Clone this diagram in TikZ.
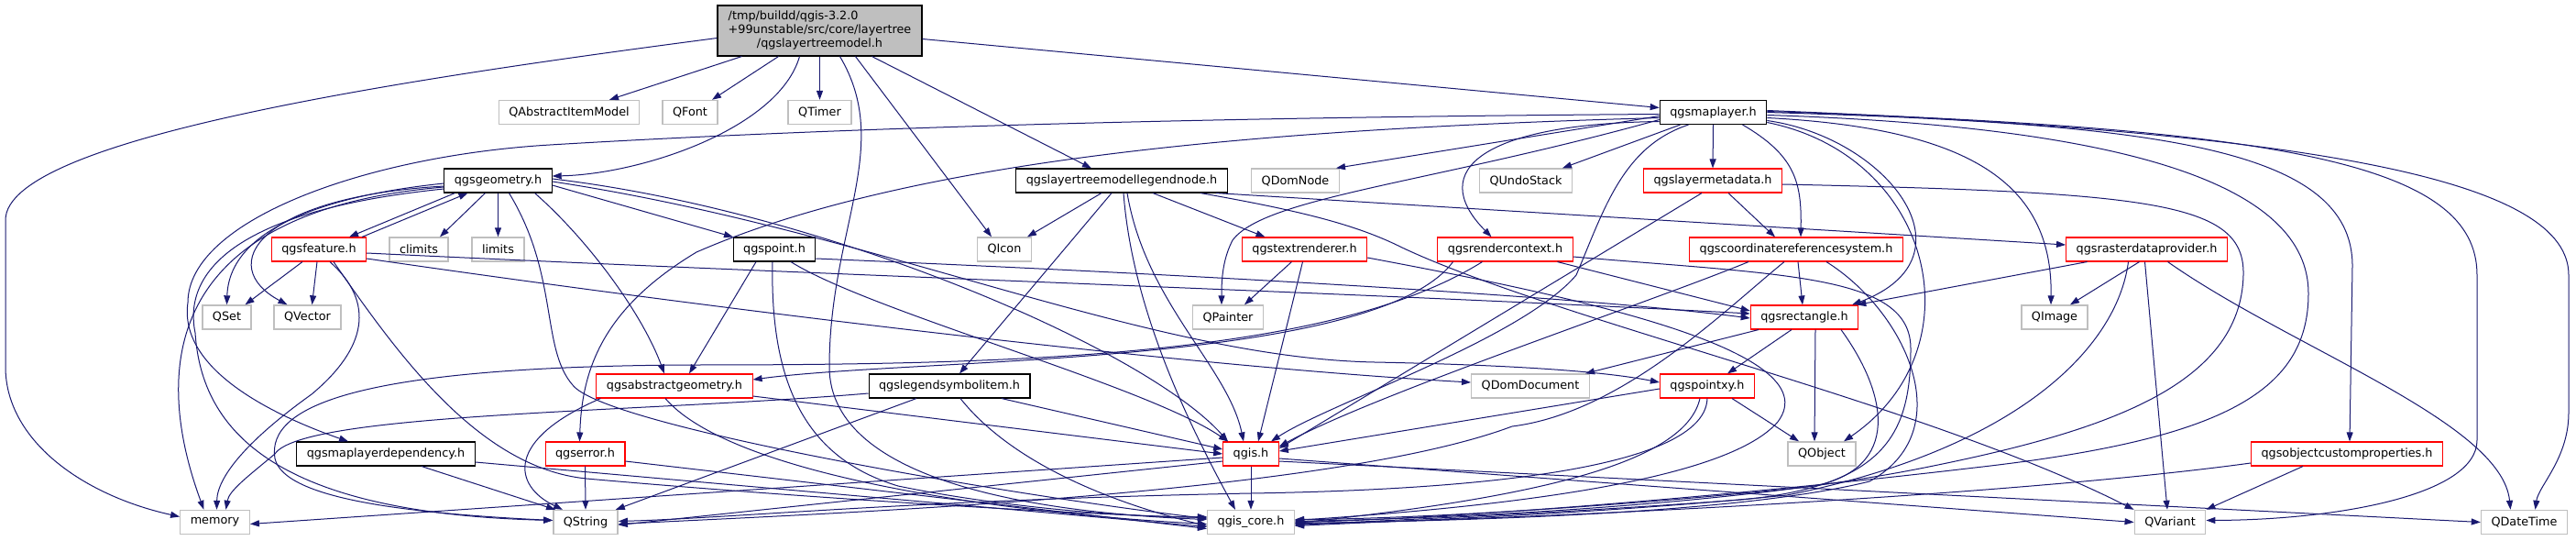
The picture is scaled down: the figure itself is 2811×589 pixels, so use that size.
\documentclass[tikz,border=0pt]{standalone}
\usepackage{fontspec}
\setmainfont{DejaVu Sans}
\usetikzlibrary{arrows.meta}
\definecolor{edgeblue}{HTML}{191970}
\definecolor{boxgray}{HTML}{BFBFBF}
\newcommand{\fsz}{\fontsize{12.8}{15}\selectfont}
\tikzset{
  blk/.style={draw=black,fill=white,line width=1.1pt,font=\fsz,inner xsep=11pt,
              inner ysep=0pt,minimum height=26pt},
  rdb/.style={blk,draw=red},
  gry/.style={blk,draw=boxgray,line width=1.4pt},
  rootbox/.style={blk,fill=boxgray,minimum width=223pt,minimum height=55pt},
  ar/.style={-{Triangle[length=10pt,width=7pt]},draw=edgeblue,line width=1pt},
}

\begin{document}
\begin{tikzpicture}[x=1pt,y=1pt]
  \path[use as bounding box,fill=white] (0,0) rectangle (2811,-589);
  \node[rootbox] (root) at (894.5,-33.5) {\begin{tabular}{@{}l@{}}/tmp/buildd/qgis-3.2.0\\+99unstable/src/core/layertree\\\multicolumn{1}{@{}c@{}}{/qgslayertreemodel.h}\end{tabular}};
  \node[gry] (qaim) at (621,-122.5) {QAbstractItemModel};
  \node[gry] (qfont) at (753,-122.5) {QFont};
  \node[gry] (qtimer) at (894.5,-122.5) {QTimer};
  \node[blk] (maplayer) at (1869.5,-122.5) {qgsmaplayer.h};
  \node[blk] (geom) at (543.5,-197) {qgsgeometry.h};
  \node[blk] (legnode) at (1224,-197) {qgslayertreemodellegendnode.h};
  \node[gry] (qdomnode) at (1413.5,-197) {QDomNode};
  \node[gry] (qundo) at (1665,-197) {QUndoStack};
  \node[rdb] (layermeta) at (1869,-197) {qgslayermetadata.h};
  \node[rdb] (feature) at (348,-272) {qgsfeature.h};
  \node[gry] (climits) at (457,-272) {climits};
  \node[gry] (limits) at (543.5,-272) {limits};
  \node[blk] (point) at (845,-272) {qgspoint.h};
  \node[gry] (qicon) at (1096,-272) {QIcon};
  \node[rdb] (textrend) at (1423.5,-272) {qgstextrenderer.h};
  \node[rdb] (rendctx) at (1642.5,-272) {qgsrendercontext.h};
  \node[rdb] (crs) at (1960,-272) {qgscoordinatereferencesystem.h};
  \node[rdb] (rasterdp) at (2342.5,-272) {qgsrasterdataprovider.h};
  \node[gry] (qset) at (247.5,-346) {QSet};
  \node[gry] (qvector) at (335.5,-346) {QVector};
  \node[gry] (qpainter) at (1340,-346) {QPainter};
  \node[rdb] (rect) at (1969,-346) {qgsrectangle.h};
  \node[gry] (qimage) at (2242,-346) {QImage};
  \node[rdb] (absgeom) at (736,-421) {qgsabstractgeometry.h};
  \node[blk] (legsym) at (1036,-421) {qgslegendsymbolitem.h};
  \node[gry] (qdomdoc) at (1670,-421) {QDomDocument};
  \node[rdb] (pointxy) at (1863,-421) {qgspointxy.h};
  \node[blk] (mldep) at (421,-495) {qgsmaplayerdependency.h};
  \node[rdb] (error) at (638.5,-495) {qgserror.h};
  \node[rdb] (qgis) at (1365,-495) {qgis.h};
  \node[gry] (qobject) at (1988,-495) {QObject};
  \node[rdb] (custprops) at (2561,-495) {qgsobjectcustomproperties.h};
  \node[gry] (memory) at (234.5,-569.5) {memory};
  \node[gry] (qstring) at (639,-569.5) {QString};
  \node[gry] (core) at (1365,-569.5) {qgis\_core.h};
  \node[gry] (qvariant) at (2368,-569.5) {QVariant};
  \node[gry] (qdatetime) at (2754.5,-569.5) {QDateTime};

  \draw[ar] ([yshift=-8pt]root.west) .. controls (450,-85) and (6,-150) .. (6,-240) -- (6,-400) .. controls (6,-480) and (90,-540) .. ([yshift=6pt]memory.west);
  \draw[ar] ([xshift=-85pt]root.south) -- ([xshift=44pt]qaim.north);
  \draw[ar] ([xshift=-45pt]root.south) -- ([xshift=24pt]qfont.north);
  \draw[ar] (root.south) -- (qtimer.north);
  \draw[ar] ([xshift=-22pt]root.south) .. controls (850,-140) and (700,-190) .. ([yshift=5pt]geom.east);
  \draw[ar] ([xshift=22pt]root.south) .. controls (975,-160) and (905,-250) .. (905,-400) .. controls (905,-530) and (1150,-560) .. ([yshift=3pt]core.west);
  \draw[ar] ([xshift=39pt]root.south) -- ([xshift=-14pt]qicon.north);
  \draw[ar] ([xshift=57pt]root.south) -- ([xshift=-33pt]legnode.north);
  \draw[ar] ([yshift=-9pt]root.east) -- ([yshift=5pt]maplayer.west);

  \draw[ar] ([yshift=-2pt]maplayer.west) .. controls (1300,-128) and (900,-140) .. (600,-158) .. controls (400,-170) and (205,-240) .. (205,-330) .. controls (195,-400) and (290,-450) .. ([xshift=-41pt]mldep.north);
  \draw[ar] ([yshift=-6pt]maplayer.west) .. controls (1400,-140) and (1000,-170) .. (760,-275) .. controls (660,-335) and (635,-400) .. ([xshift=-6pt]error.north);
  \draw[ar] ([yshift=-4pt]maplayer.west) -- ([xshift=-4pt]qdomnode.north east);
  \draw[ar] ([xshift=-36pt]maplayer.south) -- ([xshift=40pt]qundo.north);
  \draw[ar] (maplayer.south) -- (layermeta.north);
  \draw[ar] ([yshift=-10pt]maplayer.west) .. controls (1620,-135) and (1555,-185) .. ([xshift=-15pt]rendctx.north);
  \draw[ar] ([xshift=32pt]maplayer.south) .. controls (1960,-170) and (1966,-200) .. ([xshift=5pt]crs.north);
  \draw[ar] ([yshift=-8pt]maplayer.west) .. controls (1560,-200) and (1380,-215) .. (1345,-262) .. controls (1333,-285) and (1333,-310) .. ([xshift=-7pt]qpainter.north);
  \draw[ar] ([xshift=-27pt]maplayer.south) .. controls (1770,-160) and (1750,-230) .. (1720,-300) .. controls (1660,-370) and (1450,-440) .. ([xshift=22pt]qgis.north);
  \draw[ar] ([yshift=-6pt]maplayer.east) .. controls (2150,-140) and (2240,-200) .. ([xshift=-4pt]qimage.north);
  \draw[ar] ([yshift=-9pt]maplayer.east) .. controls (2060,-150) and (2160,-280) .. ([xshift=52pt]rect.north);
  \draw[ar] ([yshift=-11pt]maplayer.east) .. controls (2110,-170) and (2160,-380) .. ([xshift=24pt]qobject.north);
  \draw[ar] (maplayer.east) .. controls (2350,-135) and (2567,-160) .. (2567,-290) -- ([xshift=3pt]custprops.north);
  \draw[ar] ([yshift=1pt]maplayer.east) .. controls (2500,-140) and (2703,-180) .. (2703,-300) -- (2703,-480) .. controls (2703,-540) and (2550,-567) .. ([yshift=2pt]qvariant.east);
  \draw[ar] ([yshift=2pt]maplayer.east) .. controls (2550,-145) and (2803,-200) .. (2803,-300) -- (2803,-450) .. controls (2803,-500) and (2770,-530) .. ([xshift=12pt]qdatetime.north);
  \draw[ar] ([yshift=-3pt]maplayer.east) .. controls (2380,-140) and (2519,-220) .. (2519,-320) .. controls (2519,-430) and (2420,-480) .. (2155,-510) .. controls (1900,-540) and (1600,-565) .. (core.east);

  \draw[ar] ([xshift=-47pt]geom.south) -- ([xshift=33pt]feature.north);
  \draw[ar] ([xshift=47pt]feature.north) -- ([xshift=-33pt]geom.south);
  \draw[ar] ([xshift=-14pt]geom.south) -- ([xshift=23pt]climits.north);
  \draw[ar] (geom.south) -- (limits.north);
  \draw[ar] ([yshift=-3pt]geom.west) .. controls (340,-215) and (250,-255) .. (qset.north);
  \draw[ar] ([yshift=-6pt]geom.west) .. controls (280,-215) and (235,-290) .. ([xshift=-22pt]qvector.north);
  \draw[ar] ([yshift=-7pt]geom.west) .. controls (180,-230) and (165,-400) .. ([xshift=-12pt]memory.north);
  \draw[ar] ([yshift=-9pt]geom.west) .. controls (250,-230) and (200,-300) .. (213,-363) .. controls (220,-470) and (300,-560) .. ([yshift=2pt]qstring.west);
  \draw[ar] ([xshift=40pt]geom.south) .. controls (640,-260) and (700,-340) .. ([xshift=-11pt]absgeom.north);
  \draw[ar] ([yshift=-5pt]geom.east) -- ([xshift=-45pt]point.north);
  \draw[ar] ([yshift=2pt]geom.east) .. controls (900,-230) and (1250,-380) .. ([xshift=-25pt]qgis.north);
  \draw[ar] ([yshift=-1pt]geom.east) .. controls (950,-250) and (1250,-390) .. (1500,-395) .. controls (1650,-398) and (1750,-405) .. ([yshift=4pt]pointxy.west);
  \draw[ar] ([xshift=12pt]geom.south) .. controls (610,-300) and (590,-380) .. (625,-420) .. controls (660,-465) and (1100,-540) .. ([yshift=4pt]core.west);

  \draw[ar] ([xshift=-18pt]feature.south) -- ([xshift=20pt]qset.north);
  \draw[ar] ([xshift=-2pt]feature.south) -- ([xshift=5pt]qvector.north);
  \draw[ar] ([xshift=12pt]feature.south) .. controls (410,-330) and (400,-380) .. (340,-430) .. controls (270,-480) and (237,-520) .. ([xshift=2pt]memory.north);
  \draw[ar] ([xshift=16pt]feature.south) .. controls (430,-380) and (520,-510) .. (640,-522) .. controls (900,-545) and (1200,-562) .. ([yshift=5pt]core.west);
  \draw[ar] ([yshift=-10pt]feature.east) .. controls (800,-340) and (1300,-400) .. ([yshift=4pt]qdomdoc.west);
  \draw[ar] ([yshift=-4pt]feature.east) .. controls (900,-300) and (1500,-320) .. ([yshift=4pt]rect.west);

  \draw[ar] ([xshift=-20pt]point.south) -- ([xshift=16pt]absgeom.north);
  \draw[ar] ([xshift=-2pt]point.south) .. controls (840,-420) and (880,-500) .. (980,-530) .. controls (1100,-555) and (1250,-565) .. ([yshift=6pt]core.west);
  \draw[ar] ([xshift=18pt]point.south) .. controls (950,-340) and (1250,-420) .. ([xshift=-25pt]qgis.north);
  \draw[ar] ([yshift=-10pt]point.east) .. controls (1200,-295) and (1700,-320) .. ([yshift=-1pt]rect.west);

  \draw[ar] ([xshift=5pt]absgeom.south west) .. controls (550,-480) and (560,-530) .. ([xshift=-25pt]qstring.north);
  \draw[ar] ([xshift=-10pt]absgeom.south) .. controls (800,-520) and (1100,-560) .. ([yshift=-2pt]core.west);
  \draw[ar] ([yshift=-11pt]absgeom.east) -- (qgis.west);

  \draw[ar] ([yshift=-8pt]legsym.west) .. controls (700,-450) and (330,-450) .. (300,-495) .. controls (270,-520) and (250,-535) .. ([xshift=12pt]memory.north);
  \draw[ar] ([xshift=-36pt]legsym.south) -- ([xshift=-3pt]qstring.north east);
  \draw[ar] ([xshift=12pt]legsym.south) .. controls (1100,-500) and (1200,-545) .. ([yshift=-4pt]core.west);
  \draw[ar] ([xshift=57pt]legsym.south) -- ([yshift=5pt]qgis.west);

  \draw[ar] ([xshift=-22pt]legnode.south) -- ([xshift=25pt]qicon.north);
  \draw[ar] ([xshift=-11pt]legnode.south) -- ([xshift=11pt]legsym.north);
  \draw[ar] ([xshift=2pt]legnode.south) .. controls (1235,-330) and (1290,-450) .. ([xshift=-17pt]core.north);
  \draw[ar] ([xshift=6pt]legnode.south) .. controls (1250,-330) and (1340,-400) .. ([xshift=-8pt]qgis.north);
  \draw[ar] ([xshift=34pt]legnode.south) -- ([xshift=-43pt]textrend.north);
  \draw[ar] ([xshift=103pt]legnode.south) -- ([yshift=5pt]rasterdp.west);
  \draw[ar] ([xshift=86pt]legnode.south) .. controls (1420,-230) and (1480,-245) .. (1530,-270) .. controls (1700,-350) and (2100,-440) .. (qvariant.north west);

  \draw[ar] ([xshift=-14pt]textrend.south) -- ([xshift=18pt]qpainter.north);
  \draw[ar] ([xshift=-2pt]textrend.south) -- ([xshift=8pt]qgis.north);
  \draw[ar] ([yshift=-9pt]textrend.east) .. controls (1700,-320) and (2000,-380) .. (1940,-460) .. controls (1880,-530) and (1600,-555) .. ([yshift=2pt]core.east);

  \draw[ar] ([xshift=-57pt]rendctx.south) .. controls (1500,-400) and (1000,-390) .. ([yshift=7pt]absgeom.east);
  \draw[ar] ([xshift=-25pt]rendctx.south) .. controls (1450,-390) and (1100,-398) .. (750,-398) .. controls (400,-400) and (290,-440) .. (300,-500) .. controls (310,-545) and (450,-560) .. ([yshift=2pt]qstring.west);
  \draw[ar] ([xshift=57pt]rendctx.south) -- ([yshift=7pt]rect.west);
  \draw[ar] ([yshift=-8pt]rendctx.east) .. controls (1950,-300) and (2085,-300) .. (2085,-380) .. controls (2085,-470) and (2060,-530) .. (1900,-545) .. controls (1700,-560) and (1500,-568) .. ([yshift=-3pt]core.east);

  \draw[ar] ([xshift=-52pt]crs.south) .. controls (1800,-330) and (1500,-430) .. ([yshift=8pt]qgis.east);
  \draw[ar] ([xshift=-13pt]crs.south) .. controls (1880,-340) and (1770,-450) .. (1650,-465) .. controls (1450,-540) and (900,-560) .. ([yshift=-2pt]qstring.east);
  \draw[ar] ([xshift=2pt]crs.south) -- ([xshift=-2pt]rect.north);
  \draw[ar] ([xshift=33pt]crs.south) .. controls (2080,-340) and (2140,-470) .. (2040,-525) .. controls (1900,-560) and (1600,-568) .. ([yshift=-1pt]core.east);

  \draw[ar] ([xshift=17pt]layermeta.south) -- ([xshift=-23pt]crs.north);
  \draw[ar] ([xshift=-12pt]layermeta.south) -- ([yshift=6pt]qgis.east);
  \draw[ar] ([yshift=-4pt]layermeta.east) .. controls (2350,-210) and (2450,-220) .. (2448,-300) .. controls (2445,-420) and (2300,-470) .. (2100,-510) .. controls (1900,-550) and (1600,-565) .. ([yshift=1pt]core.east);

  \draw[ar] ([xshift=-65pt]rasterdp.south) -- ([xshift=-2pt]rect.north east);
  \draw[ar] ([xshift=-8pt]rasterdp.south) -- ([xshift=17pt]qimage.north);
  \draw[ar] ([xshift=-2pt]rasterdp.south) -- ([xshift=-3pt]qvariant.north);
  \draw[ar] ([xshift=23pt]rasterdp.south) .. controls (2500,-380) and (2730,-460) .. ([xshift=-15pt]qdatetime.north);
  \draw[ar] ([xshift=-20pt]rasterdp.south) .. controls (2310,-380) and (2200,-490) .. (1950,-540) .. controls (1750,-560) and (1550,-567) .. ([yshift=-4pt]core.east);

  \draw[ar] ([xshift=-50pt]rect.south) -- ([xshift=60pt]qdomdoc.north);
  \draw[ar] ([xshift=-14pt]rect.south) -- ([xshift=22pt]pointxy.north);
  \draw[ar] ([xshift=12pt]rect.south) -- ([xshift=-8pt]qobject.north);
  \draw[ar] ([xshift=40pt]rect.south) .. controls (2060,-430) and (2075,-510) .. (1980,-530) .. controls (1800,-550) and (1550,-566) .. ([yshift=3pt]core.east);

  \draw[ar] ([xshift=27pt]pointxy.south) -- ([xshift=-25pt]qobject.north);
  \draw[ar] ([yshift=-3pt]pointxy.west) -- ([yshift=3pt]qgis.east);
  \draw[ar] ([xshift=-8pt]pointxy.south) .. controls (1840,-500) and (1700,-540) .. ([yshift=-1pt]core.east);
  \draw[ar] (pointxy.south) .. controls (1860,-520) and (1550,-535) .. (1365,-538) .. controls (1000,-545) and (800,-565) .. ([yshift=1pt]qstring.east);

  \draw[ar] ([xshift=39pt]mldep.south) -- ([xshift=-33pt]qstring.north);
  \draw[ar] ([yshift=-9pt]mldep.east) -- ([yshift=-5pt]core.west);
  \draw[ar] (error.south) -- (qstring.north);
  \draw[ar] ([yshift=-8pt]error.east) -- ([yshift=-7pt]core.west);
  \draw[ar] ([yshift=-10pt]custprops.west) .. controls (2200,-540) and (1700,-565) .. ([yshift=-2pt]core.east);
  \draw[ar] ([xshift=-48pt]custprops.south) -- (qvariant.north east);
  \draw[ar] (qgis.south) -- (core.north);
  \draw[ar] ([yshift=-4pt]qgis.west) -- ([yshift=-2pt]memory.east);
  \draw[ar] ([yshift=-8pt]qgis.west) -- ([yshift=-3pt]qstring.east);
  \draw[ar] ([yshift=-5pt]qgis.east) -- (qvariant.west);
  \draw[ar] ([yshift=-8pt]qgis.east) -- (qdatetime.west);
\end{tikzpicture}
\end{document}
